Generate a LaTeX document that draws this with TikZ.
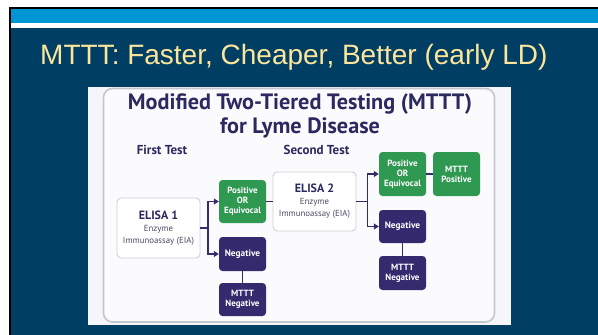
\documentclass[tikz,border=0pt]{standalone}
\usepackage{fontspec}
\setmainfont{Liberation Sans}
\newfontfamily\dgfont{PT Sans}
\usetikzlibrary{arrows.meta}
\definecolor{slidebg}{HTML}{003F63}
\definecolor{stripblue}{HTML}{0096D6}
\definecolor{titleyellow}{HTML}{FDE59C}
\definecolor{panelbg}{HTML}{F6F6FA}
\definecolor{panelin}{HTML}{FBFBFD}
\definecolor{panelline}{HTML}{C6C6CE}
\definecolor{navytext}{HTML}{2C2960}
\definecolor{navybox}{HTML}{362A6F}
\definecolor{greenbox}{HTML}{2F9952}
\definecolor{boxline}{HTML}{CFCFD8}
\definecolor{subtext}{HTML}{4A4A66}
\newcommand{\elisabig}{\dgfont\bfseries\fontsize{12}{13}\selectfont\color{navytext}}
\newcommand{\elisasmall}{\dgfont\mdseries\fontsize{8.8}{10}\selectfont\color{subtext}}
\tikzset{
  box/.style={rounded corners=3.5pt, minimum width=47pt, align=center, text=white,
    font=\dgfont\bfseries\fontsize{9}{10}\selectfont, inner sep=1pt},
  gbox/.style={box, fill=greenbox},
  nbox/.style={box, fill=navybox},
  ebox/.style={rounded corners=4pt, draw=boxline, line width=0.9pt, fill=white,
    minimum width=83pt, align=center, text=navytext, inner sep=1pt},
  conn/.style={draw=navybox, line width=1.1pt},
  arr/.style={conn, -{Triangle[length=5pt,width=6pt]}},
  head/.style={font=\dgfont\bfseries\fontsize{13}{15}\selectfont, text=navytext}
}
\begin{document}
\begin{tikzpicture}[x=1pt,y=-1pt]
\useasboundingbox (0,0) rectangle (598,335);
% slide
\fill[white] (0,0) rectangle (598,335);
\fill[black] (8.5,7) rectangle (598,335);
\fill[stripblue] (11,9) rectangle (598,23);
\fill[white] (11,23) rectangle (598,28);
\fill[slidebg] (11,28) rectangle (598,335);
\node[anchor=west, text=titleyellow, font=\fontsize{28}{30}\selectfont, inner sep=0pt]
  (title) at (40,57) {MTTT: Faster, Cheaper, Better (early LD)};
% image
\fill[panelbg] (88,87) rectangle (511,325);
\begin{scope}
\clip (88,87) rectangle (511,325);
\fill[panelin, draw=panelline, line width=1.6pt, rounded corners=9pt] (103.5,88.5) rectangle (494.5,322);
\end{scope}
\node[text=navytext, align=center, font=\dgfont\bfseries\fontsize{22.2}{23.5}\selectfont, inner sep=0pt]
  (dtitle) at (300,116) {Modified Two-Tiered Testing (MTTT)\\for Lyme Disease};
\node[head] (h1) at (162,150) {First Test};
\node[head] (h2) at (316.5,150) {Second Test};
% boxes
\node[ebox, minimum height=60pt] (e1) at (158.5,228)
  {\elisabig ELISA 1\\[0pt]\elisasmall Enzyme\\\elisasmall Immunoassay (EIA)};
\node[gbox, minimum height=43pt] (p1) at (242.5,201.5) {Positive\\OR\\Equivocal};
\node[nbox, minimum height=34pt, font=\dgfont\bfseries\fontsize{9.3}{10}\selectfont] (n1) at (242.5,254) {Negative};
\node[nbox, minimum height=33pt] (m1) at (242.5,299.5) {MTTT\\Negative};
\node[ebox, minimum height=59pt] (e2) at (314.5,201.5)
  {\elisabig ELISA 2\\[0pt]\elisasmall Enzyme\\\elisasmall Immunoassay (EIA)};
\node[gbox, minimum height=44pt] (p2) at (402.5,174) {Positive\\OR\\Equivocal};
\node[gbox, minimum height=44pt] (mp) at (456.5,174) {MTTT\\Positive};
\node[nbox, minimum height=33pt, font=\dgfont\bfseries\fontsize{9.3}{10}\selectfont] (n2) at (402.5,226.5) {Negative};
\node[nbox, minimum height=34pt] (m2) at (402.5,273) {MTTT\\Negative};
% connectors
\draw[arr] (e1.east) -- ++(7.5,0) |- (p1.west);
\draw[arr] (e1.east) -- ++(7.5,0) |- (n1.west);
\draw[conn] (n1.south) -- (m1.north);
\draw[conn] (p1.east) -- (e2.west);
\draw[arr] (e2.east) -- ++(11,0) |- (p2.west);
\draw[arr] (e2.east) -- ++(11,0) |- (n2.west);
\draw[conn] (p2.east) -- (mp.west);
\draw[conn] (n2.south) -- (m2.north);
\end{tikzpicture}
\end{document}
